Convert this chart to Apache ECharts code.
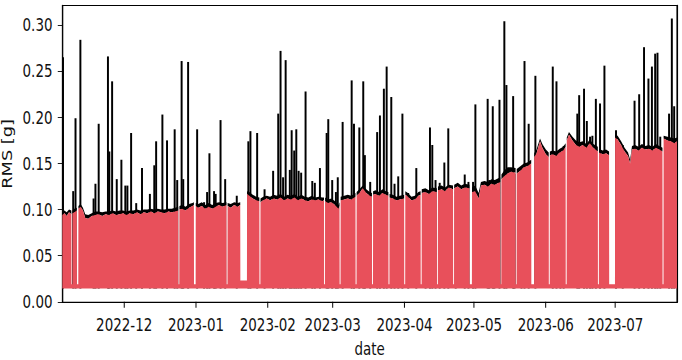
<!DOCTYPE html>
<html><head><meta charset="utf-8">
<script src="https://cdn.jsdelivr.net/npm/echarts@6/dist/echarts.min.js"></script>
<style>
html,body{margin:0;padding:0;background:#fff;overflow:hidden;}
#wrap{width:682px;height:360px;overflow:hidden;}
#chart{width:903px;height:360px;transform:scaleX(0.75526);transform-origin:0 0;}
</style></head>
<body><div id="wrap"><div id="chart"></div></div>
<script>
// ---- data (days counted from START) ----
const START = '2022-11-04';
const monthTicks = ['2022-12','2023-01','2023-02','2023-03','2023-04','2023-05','2023-06','2023-07'];
const yTicks = [0, 0.05, 0.10, 0.15, 0.20, 0.25, 0.30];
const floorLevel = 0.0145;

const redDay = [
0.3,1.2,2.2,3.2,4.2,4.25,4.65,4.7,5.5,6.55,
6.6,7.2,7.25,8.2,9.2,10.2,11.5,13,14.5,16,
17.5,19,20.5,22,23.5,25,26.5,28,29.5,31,
32.5,34,35.5,37,38.5,40,41.5,43,44.5,46,
47.5,49,50.35,50.4,50.8,50.85,52,53.5,55,56.5,
57.1,57.15,57.85,57.9,59,60.5,62,63.5,65,66.5,
68,69.5,71.15,71.2,71.6,71.65,73,74.5,76,77.1,
77.15,80,80.05,81,82.5,84,85.35,85.4,85.8,85.85,
87,88.5,90,91.5,93,94.5,96,97.5,99,100.5,
102,103.5,105,106.5,108,109.5,111,112.5,113.25,113.3,
113.7,113.75,115,116.5,118,119.5,119.95,120,120.4,120.45,
122,123.5,125,126.85,126.9,127.3,127.35,128.5,130,131.5,
133,133.95,134,134.4,134.45,135.5,137,138.5,140,141.05,
141.1,141.5,141.55,143,144.5,146,147.85,147.9,148.3,148.35,
149.5,151,152.5,154,154.95,155,155.4,155.45,157,158.5,
160,161.95,162,162.4,162.45,164,165.5,167,168.95,169,
169.4,169.45,171,172.5,174,176.05,176.1,177.1,177.15,178.5,
180,181,182.5,184,185.5,187,189.35,189.4,189.8,189.85,
191,192.5,194,195.95,196,196.4,196.45,198,199.5,201,
202.7,202.75,203.95,204,205,206.5,207.5,209,210.25,210.3,
210.7,210.75,212,213.5,215,216.5,217.55,217.6,218,218.05,
219,220.5,222,223.5,225,226.5,228,229.5,231.45,231.5,
231.9,231.95,233.5,235,236.3,236.35,238.85,238.9,240,241.5,
243,244.5,245.4,246.2,247.5,249,250.5,252,253.5,255,
256.5,258,259.35,259.4,259.8,259.85,261.5,263,264.5,265.6
];
const redTop = [
.094,.096,.093,.097,.095,.019,.019,.096,.097,.099,
.019,.019,.101,.103,.099,.091,.090,.093,.094,.095,
.093,.095,.094,.096,.094,.095,.096,.094,.096,.095,
.097,.095,.097,.096,.098,.096,.098,.097,.096,.098,
.097,.098,.099,.019,.019,.100,.101,.099,.102,.104,
.105,.019,.019,.104,.102,.104,.101,.103,.101,.103,
.105,.103,.105,.019,.019,.104,.102,.105,.103,.105,
.023,.023,.117,.115,.112,.110,.109,.019,.019,.108,
.110,.112,.110,.112,.111,.113,.110,.112,.111,.113,
.110,.112,.110,.109,.111,.110,.111,.109,.110,.019,
.019,.109,.107,.108,.105,.101,.104,.019,.019,.110,
.111,.112,.111,.114,.019,.019,.115,.118,.123,.118,
.115,.114,.019,.019,.116,.117,.115,.118,.116,.115,
.019,.019,.113,.112,.110,.111,.112,.019,.019,.116,
.114,.110,.111,.115,.116,.019,.019,.118,.119,.117,
.120,.119,.019,.019,.121,.122,.120,.124,.122,.019,
.019,.123,.125,.122,.124,.123,.019,.019,.119,.120,
.112,.126,.127,.125,.128,.127,.130,.019,.019,.133,
.136,.139,.141,.140,.019,.019,.139,.142,.146,.147,
.150,.019,.019,.157,.161,.174,.167,.160,.157,.019,
.019,.159,.160,.158,.162,.164,.168,.019,.019,.175,
.181,.175,.170,.168,.170,.167,.172,.167,.163,.019,
.019,.162,.160,.161,.159,.019,.019,.178,.176,.170,
.163,.158,.150,.165,.166,.164,.167,.165,.166,.164,
.167,.165,.163,.019,.019,.177,.175,.174,.172,.174
];
const blackTop = [
.098,.099,.097,.100,.099,.019,.019,.099,.101,.102,
.019,.019,.104,.106,.102,.095,.094,.096,.098,.098,
.097,.098,.098,.099,.098,.099,.099,.098,.099,.099,
.100,.099,.100,.100,.101,.100,.101,.100,.100,.101,
.101,.102,.103,.019,.019,.104,.105,.103,.106,.107,
.108,.019,.019,.107,.106,.108,.105,.107,.105,.107,
.108,.107,.108,.019,.019,.107,.106,.108,.107,.108,
.023,.023,.120,.119,.116,.114,.113,.019,.019,.112,
.114,.115,.114,.116,.115,.117,.114,.116,.115,.117,
.114,.116,.114,.113,.115,.113,.114,.113,.113,.019,
.019,.113,.111,.112,.109,.105,.108,.019,.019,.114,
.115,.116,.115,.118,.019,.019,.119,.122,.126,.122,
.119,.118,.019,.019,.120,.121,.119,.122,.120,.119,
.019,.019,.117,.116,.114,.115,.116,.019,.019,.120,
.118,.114,.115,.119,.120,.019,.019,.122,.123,.121,
.124,.123,.019,.019,.125,.126,.124,.127,.126,.019,
.019,.127,.129,.126,.128,.127,.019,.019,.124,.126,
.118,.130,.131,.130,.133,.132,.135,.019,.019,.138,
.142,.146,.146,.145,.019,.019,.144,.147,.150,.151,
.154,.019,.019,.161,.165,.177,.171,.165,.162,.019,
.019,.163,.164,.163,.166,.168,.172,.019,.019,.178,
.184,.179,.175,.173,.174,.171,.176,.171,.168,.019,
.019,.166,.164,.165,.163,.019,.019,.181,.180,.174,
.167,.162,.154,.169,.170,.168,.171,.169,.170,.168,
.171,.169,.167,.019,.019,.180,.179,.178,.177,.178
];
const spikeDay = [
0.6,5.0,6.0,8.1,13.8,14.6,16.0,20.0,20.6,21.8,
23.8,25.8,27.5,28.4,30.0,32.2,34.7,38.1,40.0,40.8,
43.5,45.5,48.8,49.9,51.8,52.5,54.6,58.5,61.5,62.8,
63.8,65.8,66.5,68.6,70.6,75.6,80.6,81.5,84.4,87.6,
91.3,93.5,94.5,95.6,96.7,98.5,99.3,100.4,101.3,102.3,
103.4,105.3,108.2,109.3,111.5,114.4,115.1,116.8,118.4,119.2,
121.3,125.2,126.2,128.5,130.2,130.9,133.2,136.2,137.4,139.1,
140.3,142.3,143.7,145.3,147.1,149.6,153.1,157.1,159.0,160.0,
161.4,163.2,165.2,166.9,170.1,174.0,175.6,177.6,178.6,183.9,
184.6,186.1,186.8,189.0,191.1,192.0,194.9,195.5,198.5,199.8,
201.6,204.5,212.0,213.6,215.3,216.7,222.6,223.4,225.5,226.7,
228.1,229.1,230.6,232.4,234.3,239.3,242.2,247.3,249.3,251.4,
253.3,254.8,256.2,257.2,258.4,262.2,263.4,264.4
];
const spikePeak = [
.265,.120,.199,.284,.112,.128,.193,.266,.163,.239,
.133,.154,.126,.126,.183,.107,.145,.117,.148,.174,
.203,.175,.187,.132,.261,.133,.260,.187,.108,.119,
.161,.120,.117,.197,.133,.115,.174,.185,.183,.122,
.142,.204,.272,.135,.262,.143,.186,.164,.187,.142,
.140,.228,.131,.129,.145,.183,.198,.132,.119,.135,
.195,.240,.193,.189,.239,.159,.130,.184,.202,.231,
.255,.222,.128,.136,.204,.118,.145,.121,.189,.170,
.132,.129,.151,.188,.121,.138,.130,.130,.214,.220,
.132,.212,.132,.219,.304,.235,.223,.139,.146,.261,
.193,.245,.255,.239,.163,.169,.204,.224,.231,.196,
.179,.180,.220,.215,.256,.186,.170,.218,.225,.276,
.242,.255,.269,.270,.179,.204,.307,.212
];

// ---- chart ----
const DAY = 86400000;
const t0 = new Date(START + 'T00:00:00').getTime();
const toT = d => t0 + d * DAY;
const monthT = monthTicks.map(m => new Date(m + '-01T00:00:00').getTime());

const redPts = redDay.map((d, i) => [toT(d), redTop[i]]);
const blackPts = redDay.map((d, i) => [toT(d), blackTop[i]]);
const spikePts = spikeDay.map((d, i) => [toT(d), spikePeak[i]]);

const font = { fontFamily: 'DejaVu Sans', fontSize: 17.8, color: '#111' };
const RED = '#e8505b';
const yMin = -0.0005, yMax = 0.3212;

// red band: upper values over the floor level
function redBand(params, api) {
  if (params.dataIndex !== 0) return null;
  const top = redPts.map(p => api.coord(p));
  const last = redPts[redPts.length - 1][0], first = redPts[0][0];
  return { type: 'polygon',
    shape: { points: top.concat([api.coord([last, floorLevel]), api.coord([first, floorLevel])]) },
    style: { fill: RED } };
}
// black envelope: ribbon between the red top and the black top
function blackBand(params, api) {
  if (params.dataIndex !== 0) return null;
  const top = blackPts.map(p => api.coord(p));
  const under = redPts.slice().reverse().map(p => api.coord(p));
  return { type: 'polygon', shape: { points: top.concat(under) }, style: { fill: '#000' } };
}

const chart = echarts.init(document.getElementById('chart'), null, { renderer: 'svg', width: 903, height: 360 });
chart.setOption({
  animation: false,
  grid: { left: 82.5, right: 6.7, top: 5.5, bottom: 57.7, show: true, borderColor: '#000', borderWidth: 1.2, backgroundColor: 'transparent', outerBoundsMode: 'none' },
  xAxis: {
    type: 'value', min: toT(0.3), max: toT(265.6), scale: true,
    name: 'date', nameLocation: 'middle', nameGap: 39, nameTextStyle: Object.assign({ lineHeight: 15 }, font),
    axisLine: { show: true, lineStyle: { color: '#000', width: 1.2 } },
    splitLine: { show: false },
    axisTick: { show: true, length: 6, lineStyle: { color: '#000', width: 1.3 }, customValues: monthT },
    axisLabel: Object.assign({ customValues: monthT, margin: 13, formatter: v => {
      for (let i = 0; i < monthT.length; i++) if (Math.abs(monthT[i] - v) < DAY) return monthTicks[i];
      return '';
    } }, font)
  },
  yAxis: [{
    type: 'value', min: yMin, max: yMax,
    name: 'RMS [g]', nameLocation: 'middle', nameGap: 62, nameTextStyle: font,
    axisLine: { show: true, lineStyle: { color: '#000', width: 1.6 } },
    splitLine: { show: false },
    axisTick: { show: true, length: 6, lineStyle: { color: '#000', width: 1 }, customValues: yTicks },
    axisLabel: Object.assign({ customValues: yTicks, margin: 13, formatter: v => v.toFixed(2) }, font)
  }, {
    type: 'value', min: yMin, max: yMax, position: 'right',
    axisLine: { show: true, lineStyle: { color: '#000', width: 1.6 } },
    axisTick: { show: false }, axisLabel: { show: false }, splitLine: { show: false }
  }],
  series: [
    { type: 'custom', name: 'black', data: blackPts, silent: true, z: 1, encode: { x: 0, y: 1 },
      renderItem: blackBand },
    { type: 'custom', name: 'black peaks', data: spikePts, silent: true, z: 1, encode: { x: 0, y: 1 },
      renderItem: (params, api) => {
        const a = api.coord([api.value(0), floorLevel]);
        const b = api.coord([api.value(0), api.value(1)]);
        return { type: 'line', shape: { x1: a[0], y1: a[1], x2: b[0], y2: b[1] },
                 style: { stroke: '#000', lineWidth: 2.6 } };
      } },
    { type: 'custom', name: 'red', data: redPts, silent: true, z: 2, encode: { x: 0, y: 1 },
      renderItem: redBand }
  ]
});
</script>
</body></html>
